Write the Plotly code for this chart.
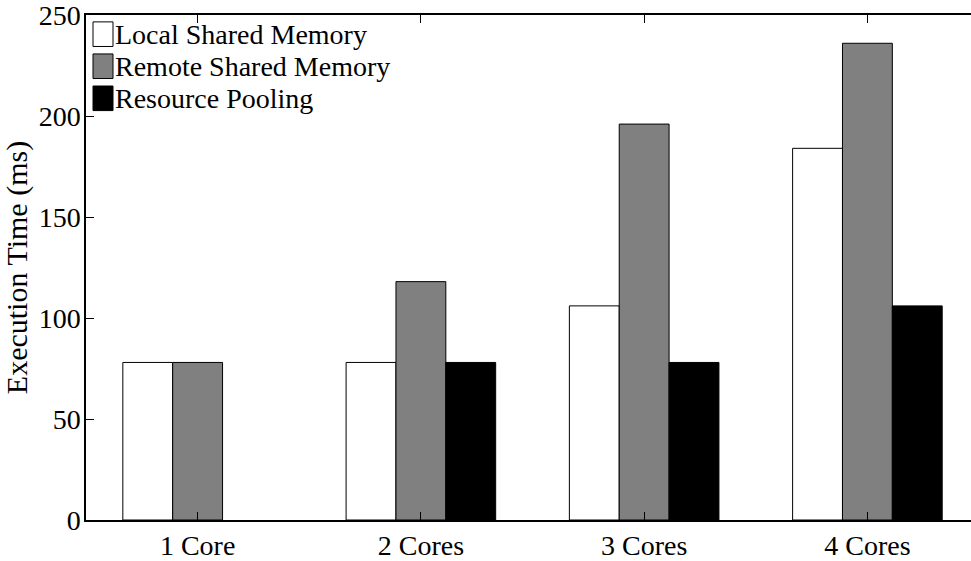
import plotly.graph_objects as go

# Execution time per configuration (ms)
categories = ["1 Core", "2 Cores", "3 Cores", "4 Cores"]
local_shared = [78, 78, 106, 184]
remote_shared = [78, 118, 196, 236]
resource_pooling = [None, 78, 78, 106]
series_names = ["Local Shared Memory", "Remote Shared Memory", "Resource Pooling"]
y_ticks = [0, 50, 100, 150, 200, 250]

FONT = "Liberation Serif"
FS = 28
FS_TITLE = 30
W, H = 971, 561
ML, MR, MT, MB = 86, 0, 15, 32.5

fills = ["#ffffff", "#808080", "#000000"]
series = [local_shared, remote_shared, resource_pooling]

fig = go.Figure()
for name, vals, col in zip(series_names, series, fills):
    fig.add_trace(go.Bar(
        x=categories, y=vals, name=name,
        marker=dict(color=col, line=dict(color="#000000", width=1)),
        showlegend=False,
    ))

# legend drawn as swatches + labels in the upper-left corner of the axes
pw = W - ML - MR
ph = H - MT - MB
def px(x):
    return (x - ML) / pw
def py(y):
    return 1 - (y - MT) / ph

shapes = []
annotations = []
row_top = 22
pitch = 32.6
for i, (name, col) in enumerate(zip(series_names, fills)):
    top = row_top + i * pitch
    shapes.append(dict(type="rect", xref="paper", yref="paper",
                       x0=px(93), x1=px(113), y0=py(top), y1=py(top + 25),
                       fillcolor=col, line=dict(color="#000000", width=1)))
    annotations.append(dict(xref="paper", yref="paper", x=px(113), y=py(top + 13),
                            xanchor="left", yanchor="middle", showarrow=False,
                            text=name, font=dict(family=FONT, size=FS, color="#000000")))

fig.update_layout(
    width=W, height=H,
    margin=dict(l=ML, r=MR, t=MT, b=MB, pad=0),
    paper_bgcolor="#ffffff", plot_bgcolor="#ffffff",
    barmode="group", bargap=0.33, bargroupgap=0,
    font=dict(family=FONT, size=FS, color="#000000"),
    shapes=shapes, annotations=annotations,
    showlegend=False,
)
fig.update_xaxes(
    range=[-0.5, 3.464],
    showline=True, linecolor="#000000", linewidth=1.5, mirror="ticks",
    ticks="inside", ticklen=8, tickcolor="#000000",
    showgrid=False, zeroline=False,
    tickfont=dict(family=FONT, size=FS, color="#000000"),
)
fig.update_yaxes(
    range=[0, 250], tickvals=y_ticks,
    showline=True, linecolor="#000000", linewidth=1.5, mirror=False,
    ticks="inside", ticklen=8, tickcolor="#000000",
    ticklabelstandoff=-2, ticklabeloverflow="allow",
    showgrid=False, zeroline=False,
    tickfont=dict(family=FONT, size=FS, color="#000000"),
    title=dict(text="Execution Time (ms)", standoff=2,
               font=dict(family=FONT, size=FS_TITLE, color="#000000")),
)

fig.write_html("out.html")
